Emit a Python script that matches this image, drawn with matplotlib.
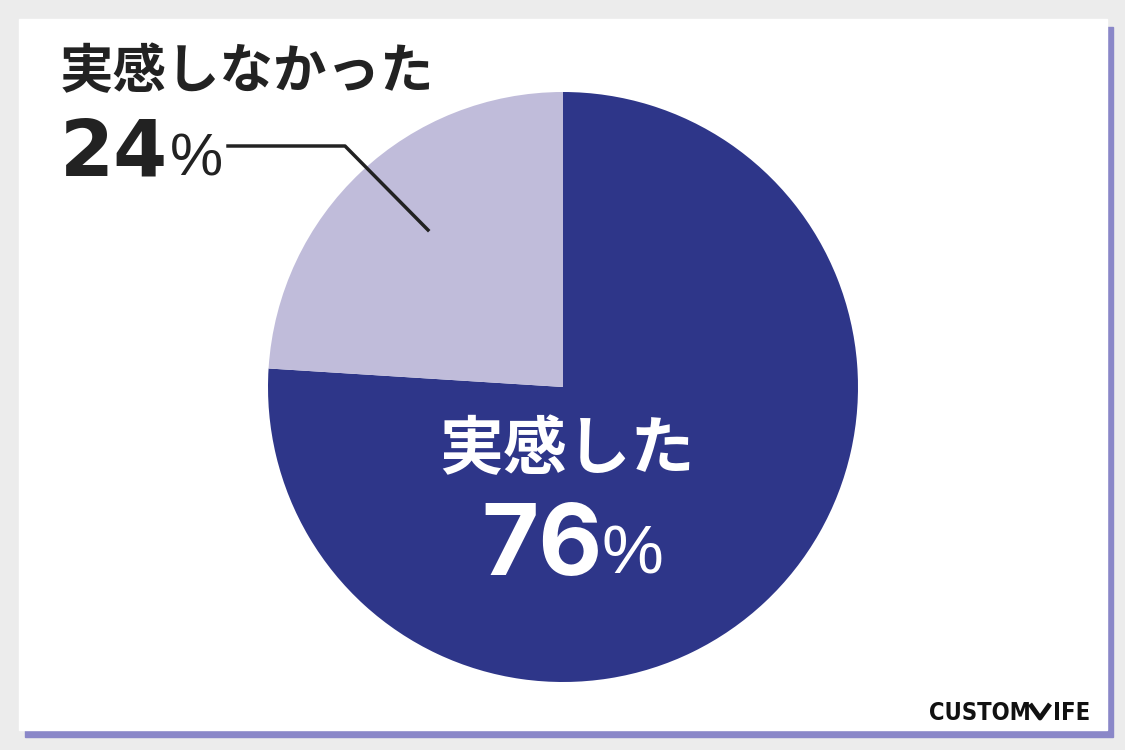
import matplotlib.pyplot as plt
from matplotlib.patches import Rectangle

labels = ['実感した', '実感しなかった']
values = [76, 24]
colors = ['#2e3689', '#c0bcda']

W, H = 1125, 750
fig = plt.figure(figsize=(W / 100, H / 100), dpi=100)
fig.patch.set_facecolor('#ececec')

# background: card + purple shadow, in pixel coords
bg = fig.add_axes([0, 0, 1, 1])
bg.set_xlim(0, W)
bg.set_ylim(H, 0)
bg.axis('off')
bg.add_patch(Rectangle((25, 27), 1088, 710, color='#8a87c8'))
bg.add_patch(Rectangle((19, 19), 1088, 711, color='white'))

# pie
cx, cy, r = 563, 387, 295
ax = fig.add_axes([(cx - r) / W, (H - cy - r) / H, 2 * r / W, 2 * r / H])
ax.pie(values, colors=colors, startangle=90, counterclock=False,
       wedgeprops={'linewidth': 0})
ax.set_xlim(-1, 1)
ax.set_ylim(-1, 1)
ax.axis('off')

# overlay for labels
ov = fig.add_axes([0, 0, 1, 1], zorder=5)
ov.set_xlim(0, W)
ov.set_ylim(H, 0)
ov.axis('off')
ov.patch.set_alpha(0)

jp = ['Noto Sans CJK JP', 'DejaVu Sans']

ov.text(60, 73, labels[1], fontsize=38.5, fontweight='bold', family=jp,
        color='#222222', ha='left', va='center')
ov.text(60, 175, f'{values[1]}', fontsize=56, fontweight='bold',
        family='DejaVu Sans', color='#222222', ha='left', va='baseline')
ov.text(170, 175, '%', fontsize=43, fontweight='normal',
        family='Liberation Sans', color='#222222', ha='left', va='baseline')
ov.plot([228, 345, 428], [146, 146, 230], color='#222222', lw=2.5)

ov.text(567, 450, labels[0], fontsize=46, fontweight='bold', family=jp,
        color='white', ha='center', va='center')
ov.text(481, 575, f'{values[0]}', fontsize=71, fontweight='bold',
        family='Inter', color='white', ha='left', va='baseline')
ov.text(601, 573, '%', fontsize=50, fontweight='normal',
        family='Liberation Sans', color='white', ha='left', va='baseline')

# logo
ov.text(929, 720, 'CUSTOM', fontsize=17, fontweight='bold',
        family='DejaVu Sans', fontstretch='condensed', color='#111111',
        ha='left', va='baseline')
ov.plot([1030, 1040, 1050], [704, 718, 704], color='#111111', lw=3.5,
        solid_capstyle='butt')
ov.text(1090, 720, 'IFE', fontsize=17, fontweight='bold',
        family='DejaVu Sans', fontstretch='condensed', color='#111111',
        ha='right', va='baseline')

fig.savefig('out.png', dpi=100, facecolor=fig.get_facecolor())
